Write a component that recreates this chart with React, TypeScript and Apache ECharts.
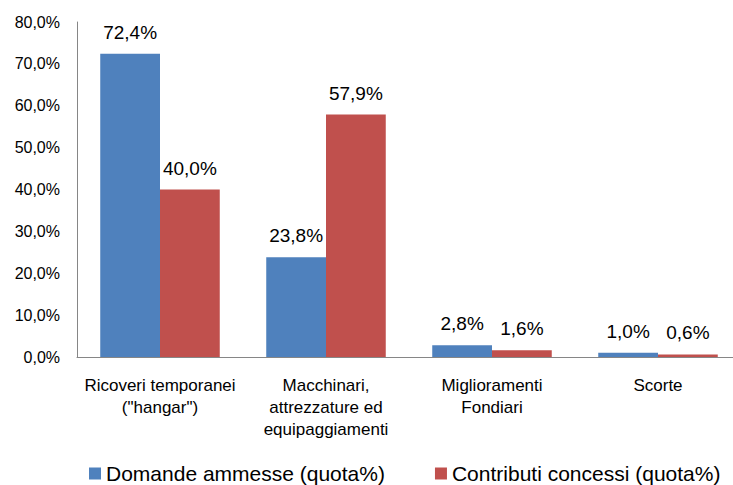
import React, { useEffect, useRef } from "react";
import * as echarts from "echarts";

const categories = [
  "Ricoveri temporanei\n(\"hangar\")",
  "Macchinari,\nattrezzature ed\nequipaggiamenti",
  "Miglioramenti\nFondiari",
  "Scorte",
];
const domandeAmmesse = [72.4, 23.8, 2.8, 1.0];
const contributiConcessi = [40.0, 57.9, 1.6, 0.6];
const seriesNames = ["Domande ammesse (quota%)", "Contributi concessi (quota%)"];

const fmt = (v: number) => v.toFixed(1).replace(".", ",") + "%";
const FONT = "'Liberation Sans', Arial, sans-serif";

export default function App() {
  const ref = useRef<HTMLDivElement>(null);
  useEffect(() => {
    if (!ref.current) return;
    const chart = echarts.init(ref.current, null, { renderer: "svg" });
    const labelCfg = {
      show: true,
      position: "top",
      distance: 12,
      color: "#000",
      fontSize: 19,
      fontFamily: FONT,
      formatter: (p: any) => fmt(p.value),
    };
    chart.setOption({
      animation: false,
      textStyle: { fontFamily: FONT },
      grid: {
        left: 77,
        top: 22,
        height: 335,
        width: 664,
        containLabel: false,
        outerBoundsMode: "none",
      },
      legend: {
        top: 458,
        left: 84,
        itemWidth: 12,
        itemHeight: 12,
        itemGap: 50,
        icon: "rect",
        textStyle: { fontSize: 21, color: "#000", fontFamily: FONT },
        data: seriesNames,
      },
      xAxis: {
        type: "category",
        data: categories,
        axisLine: { lineStyle: { color: "#868686" } },
        axisTick: { show: false },
        axisLabel: {
          color: "#000",
          fontSize: 17,
          lineHeight: 22,
          margin: 17,
          interval: 0,
          fontFamily: FONT,
        },
      },
      yAxis: {
        type: "value",
        min: 0,
        max: 80,
        interval: 10,
        axisLine: { show: true, lineStyle: { color: "#868686" } },
        axisTick: { show: false },
        splitLine: { show: false },
        axisLabel: {
          color: "#000",
          fontSize: 16,
          margin: 17,
          fontFamily: FONT,
          formatter: (v: number) => fmt(v),
        },
      },
      series: [
        {
          name: seriesNames[0],
          type: "bar",
          data: domandeAmmesse,
          barCategoryGap: "28%",
          barGap: "0%",
          itemStyle: { color: "#4F81BD" },
          label: labelCfg,
        },
        {
          name: seriesNames[1],
          type: "bar",
          data: contributiConcessi,
          barCategoryGap: "28%",
          barGap: "0%",
          itemStyle: { color: "#C0504D" },
          label: labelCfg,
        },
      ],
    });
    return () => chart.dispose();
  }, []);
  return (
    <div
      ref={ref}
      style={{ position: "fixed", left: 0, top: 0, width: 733, height: 485, background: "#fff" }}
    />
  );
}
